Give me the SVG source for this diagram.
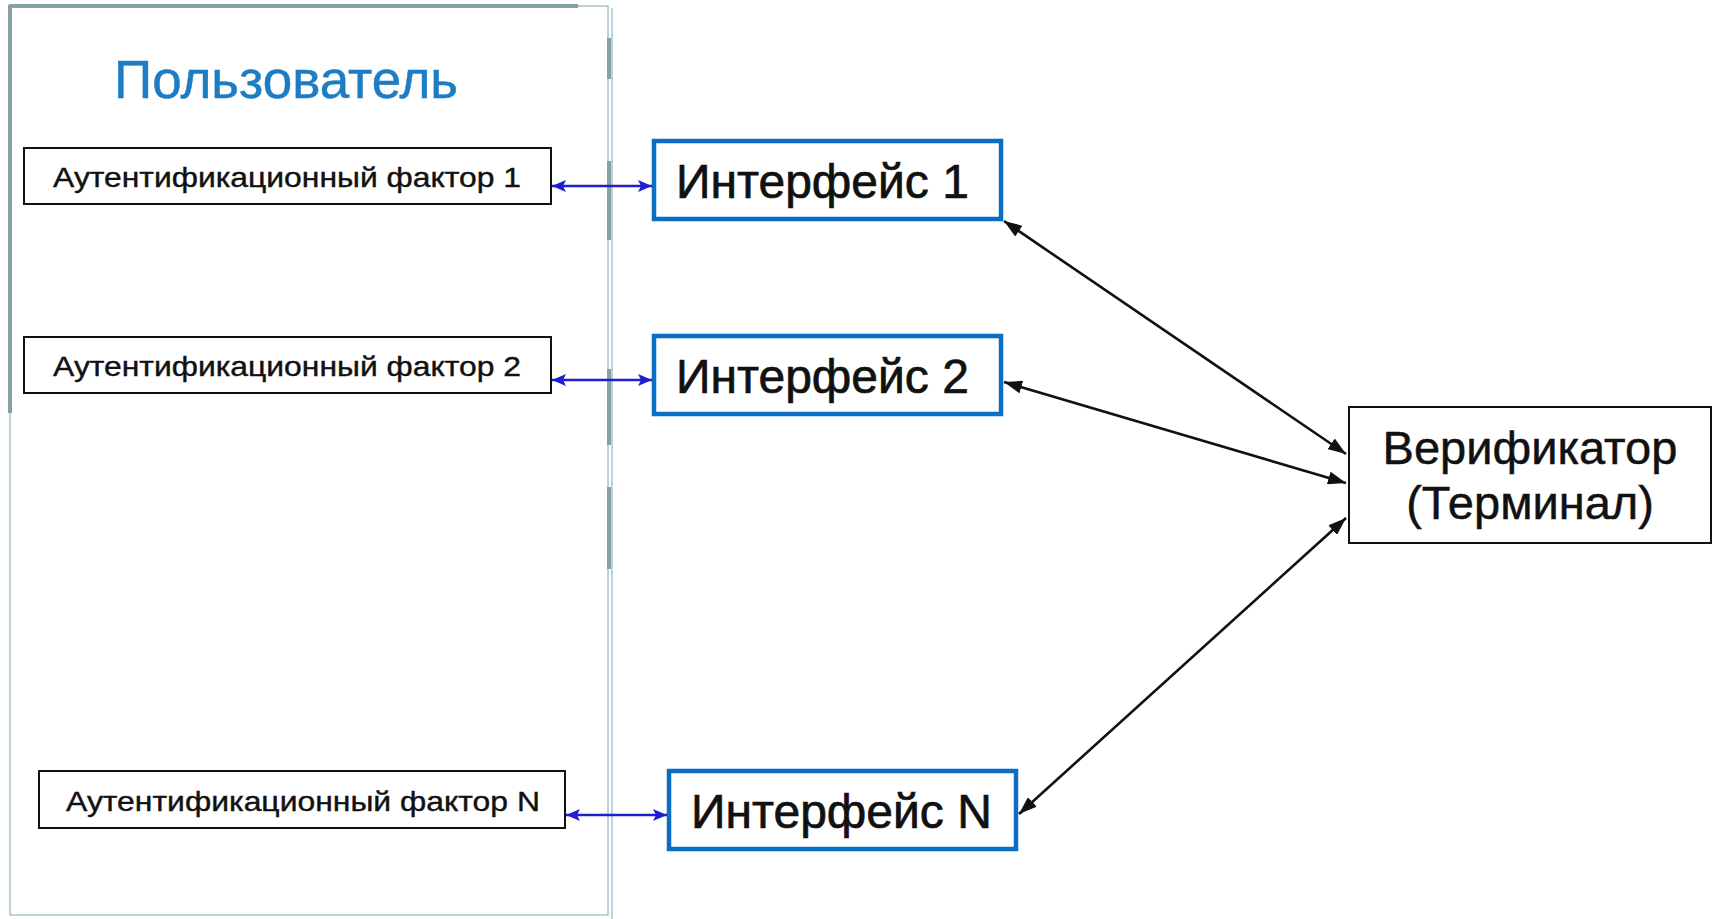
<svg xmlns="http://www.w3.org/2000/svg" width="1713" height="919" viewBox="0 0 1713 919">
<style>
.frame{fill:none;stroke:#a9c3cc;stroke-width:1.5}
.thick{stroke:#87a0a4;stroke-width:4;fill:none}
.title{font-family:"Liberation Sans",Arial,sans-serif;font-size:53px;fill:#1c7cc4;stroke:#1c7cc4;stroke-width:0.5}
.fbox{fill:#fff;stroke:#111;stroke-width:2}
.ftext{font-family:"Liberation Sans",Arial,sans-serif;font-size:28px;fill:#111;stroke:#111;stroke-width:0.4}
.ibox{fill:#fff;stroke:#0a6ec4;stroke-width:4.5}
.itext{font-family:"Liberation Sans",Arial,sans-serif;font-size:48px;fill:#111;stroke:#111;stroke-width:0.7}
.vbox{fill:#fff;stroke:#111;stroke-width:2}
.vtext{font-family:"Liberation Sans",Arial,sans-serif;font-size:47px;fill:#111;stroke:#111;stroke-width:0.5}
.blue{stroke:#1f1fd0;stroke-width:2.4;fill:none;marker-start:url(#bs);marker-end:url(#be)}
.black{stroke:#111;stroke-width:2.6;fill:none;marker-start:url(#ks);marker-end:url(#ke)}
</style>
<defs>
<marker id="be" viewBox="0 0 14 12" refX="14" refY="6" markerWidth="14" markerHeight="12" markerUnits="userSpaceOnUse" orient="auto"><path d="M0,0 L14,6 L0,12 L3,6 Z" fill="#1f1fd0"/></marker>
<marker id="bs" viewBox="0 0 14 12" refX="0" refY="6" markerWidth="14" markerHeight="12" markerUnits="userSpaceOnUse" orient="auto"><path d="M14,0 L0,6 L14,12 L11,6 Z" fill="#1f1fd0"/></marker>
<marker id="ke" viewBox="0 0 18 13" refX="18" refY="6.5" markerWidth="18" markerHeight="13" markerUnits="userSpaceOnUse" orient="auto"><path d="M0,0 L18,6.5 L0,13 Z" fill="#111"/></marker>
<marker id="ks" viewBox="0 0 18 13" refX="0" refY="6.5" markerWidth="18" markerHeight="13" markerUnits="userSpaceOnUse" orient="auto"><path d="M18,0 L0,6.5 L18,13 Z" fill="#111"/></marker>
</defs>
<rect x="0" y="0" width="1713" height="919" fill="#fff"/>
<g id="user-panel">
<rect class="frame" x="10" y="6" width="598" height="909"/>
<line class="frame" x1="612" y1="8" x2="612" y2="919"/>
<line class="thick" x1="9" y1="6" x2="578" y2="6"/>
<line class="thick" x1="10" y1="5" x2="10" y2="413"/>
<line class="thick" x1="609" y1="38" x2="609" y2="79"/>
<line class="thick" x1="609" y1="161" x2="609" y2="240"/>
<line class="thick" x1="609" y1="369" x2="609" y2="445"/>
<line class="thick" x1="609" y1="487" x2="609" y2="569"/>
<text class="title" x="286" y="98" text-anchor="middle">Пользователь</text>
</g>
<g id="factor1">
<rect class="fbox" x="24" y="148" width="527" height="56"/>
<text class="ftext" x="287" y="187" text-anchor="middle" textLength="468" lengthAdjust="spacingAndGlyphs">Аутентификационный фактор 1</text>
</g>
<g id="factor2">
<rect class="fbox" x="24" y="337" width="527" height="56"/>
<text class="ftext" x="287" y="376" text-anchor="middle" textLength="468" lengthAdjust="spacingAndGlyphs">Аутентификационный фактор 2</text>
</g>
<g id="factorN">
<rect class="fbox" x="39" y="771" width="526" height="57"/>
<text class="ftext" x="303" y="811" text-anchor="middle" textLength="474" lengthAdjust="spacingAndGlyphs">Аутентификационный фактор N</text>
</g>
<g id="interface1">
<rect class="ibox" x="654" y="141" width="347" height="78"/>
<text class="itext" x="676" y="198">Интерфейс 1</text>
</g>
<g id="interface2">
<rect class="ibox" x="654" y="336" width="347" height="78"/>
<text class="itext" x="676" y="393">Интерфейс 2</text>
</g>
<g id="interfaceN">
<rect class="ibox" x="669" y="771" width="347" height="78"/>
<text class="itext" x="691" y="828">Интерфейс N</text>
</g>
<g id="verifier">
<rect class="vbox" x="1349" y="407" width="362" height="136"/>
<text class="vtext" x="1530" y="464" text-anchor="middle">Верификатор</text>
<text class="vtext" x="1530" y="519" text-anchor="middle">(Терминал)</text>
</g>
<g id="connectors">
<line class="blue" x1="552" y1="186" x2="652" y2="186"/>
<line class="blue" x1="552" y1="380" x2="652" y2="380"/>
<line class="blue" x1="566" y1="815" x2="667" y2="815"/>
<line class="black" x1="1004" y1="221" x2="1346" y2="454"/>
<line class="black" x1="1004" y1="382" x2="1346" y2="483"/>
<line class="black" x1="1019" y1="814" x2="1346" y2="518"/>
</g>
</svg>
